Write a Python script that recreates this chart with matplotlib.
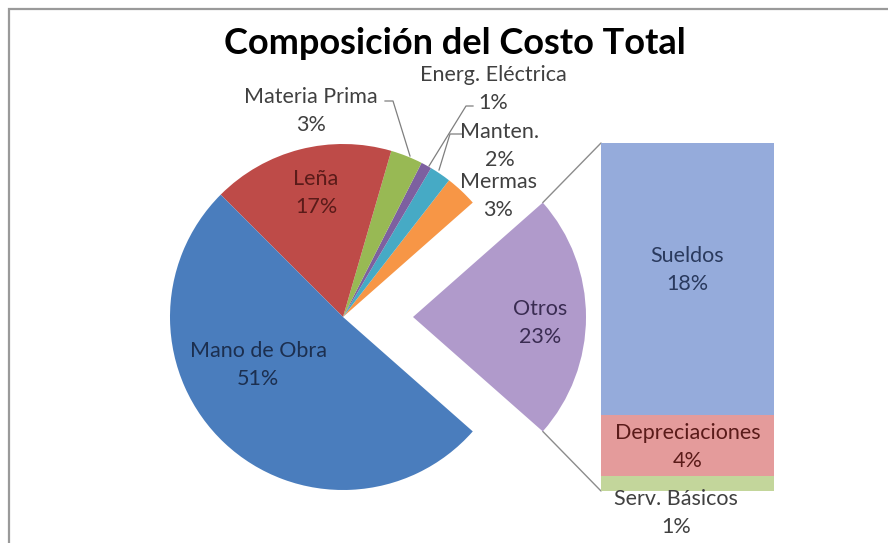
import matplotlib
matplotlib.use("Agg")
import matplotlib.pyplot as plt
from matplotlib.patches import ConnectionPatch, Rectangle
import numpy as np

# ---- data ----
pie_labels = ["Otros", "Mermas", "Manten.", "Energ. Eléctrica", "Materia Prima", "Leña", "Mano de Obra"]
pie_values = [23, 3, 2, 1, 3, 17, 51]
pie_colors = ["#B09ACB", "#F79646", "#46AAC5", "#7D60A0", "#98B954", "#BE4B48", "#4A7DBD"]

bar_labels = ["Serv. Básicos", "Depreciaciones", "Sueldos"]
bar_values = [1, 4, 18]
bar_colors = ["#C3D69B", "#E49B9B", "#95ABDB"]

title = "Composición del Costo Total"

W, H = 888, 543
FONT = "Lato"
plt.rcParams['font.family'] = [FONT, 'DejaVu Sans']

fig = plt.figure(figsize=(W / 100, H / 100), dpi=100)
ax = fig.add_axes([0, 0, 1, 1])
ax.set_zorder(3)

def Y(y):
    return H - y

# border
fig.patches.append(Rectangle((9 / W, -0.1), 2, Y(9) / H + 0.1, transform=fig.transFigure,
                             fill=False, edgecolor="#9A9A9A", linewidth=1.6))

# pie
cx, cy, R = 343, Y(317), 173
expl_px = 70
start = -pie_values[0] / sum(pie_values) * 360 / 2
explode = [expl_px] + [0] * (len(pie_values) - 1)
wedges, _ = ax.pie(pie_values, colors=pie_colors, startangle=start, counterclock=True,
                   center=(cx, cy), radius=R, explode=explode, frame=True,
                   wedgeprops=dict(linewidth=0))
ax.set_xlim(0, W)
ax.set_ylim(0, H)
ax.set_aspect("equal")
ax.axis("off")

fs = 15.5
ls = 1.5
def pct(v):
    return f"{v}%"

inner_text = {
    "Mano de Obra": ((258, 365), "#1C2F4F"),
    "Leña": ((316, 193), "#5A1B19"),
    "Otros": ((540, 323), "#3A2C52"),
}
outer_text = {
    "Materia Prima": (311, 111),
    "Energ. Eléctrica": (493, 89),
    "Manten.": (500, 146),
    "Mermas": (498, 196),
}
for lab, v in zip(pie_labels, pie_values):
    if lab in inner_text:
        (x, y), c = inner_text[lab]
    else:
        (x, y), c = outer_text[lab], "#404040"
    ax.text(x, Y(y), f"{lab}\n{pct(v)}", ha="center", va="center", fontsize=fs,
            color=c, linespacing=ls)

# leader lines
lc = "#7F7F7F"
ax.plot([385, 393, 410], [Y(101), Y(101), Y(156)], color=lc, lw=0.9)
ax.plot([473, 466, 429], [Y(106), Y(106), Y(166)], color=lc, lw=0.9)
ax.plot([463, 450, 439], [Y(134), Y(134), Y(170)], color=lc, lw=0.9)

# bar of pie
bx0, by0, bw, bh = 601, Y(491), 173, 348
bax = fig.add_axes([bx0 / W, by0 / H, bw / W, bh / H])
bax.set_zorder(1)
total_bar = sum(bar_values)
bax.set_xlim(-0.5, 0.5)
bax.set_ylim(0, total_bar)
bax.axis("off")
bottom = 0
for lab, v, c in zip(bar_labels, bar_values, bar_colors):
    bax.bar(0, v, bottom=bottom, width=1.0, color=c, linewidth=0)
    bottom += v

bar_label_px = {"Sueldos": ((687, 270), "#2A3A5E"),
                "Depreciaciones": ((688, 447), "#5A1B19"),
                "Serv. Básicos": ((676, 513), "#404040")}
for lab, v in zip(bar_labels, bar_values):
    (x, y), c = bar_label_px[lab]
    ax.text(x, Y(y), f"{lab}\n{pct(v)}", ha="center", va="center", fontsize=fs,
            color=c, linespacing=ls, zorder=5)

# connector lines
ang = np.deg2rad(-start)
ocx = cx + expl_px
top_pt = (ocx + R * np.cos(ang), cy + R * np.sin(ang))
bot_pt = (ocx + R * np.cos(ang), cy - R * np.sin(ang))
for pA, pB in [(top_pt, (-0.5, total_bar)), (bot_pt, (-0.5, 0))]:
    con = ConnectionPatch(xyA=pA, coordsA=ax.transData, xyB=pB, coordsB=bax.transData,
                          color="#8C8C8C", lw=1.0)
    fig.add_artist(con)

ax.text(455, Y(44), title, ha="center", va="center", fontsize=26, fontweight="bold", color="black")

fig.savefig("out.png", dpi=100)
